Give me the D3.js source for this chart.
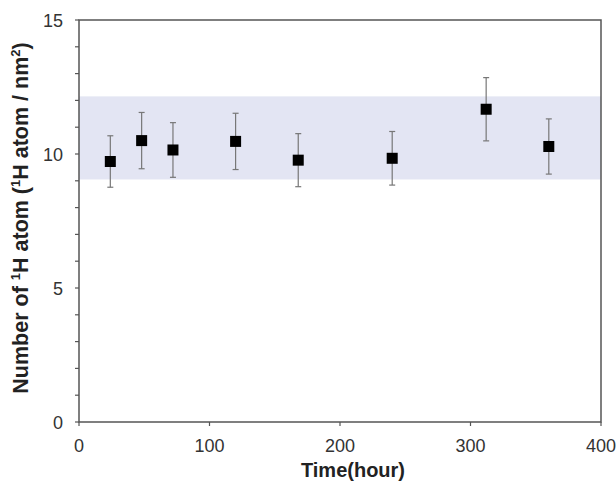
<!DOCTYPE html>
<html>
<head>
<meta charset="utf-8">
<script src="https://cdn.jsdelivr.net/npm/d3@7"></script>
<style>
  body { margin: 0; background: #fff; }
  text { font-family: "Liberation Sans", Arial, sans-serif; }
</style>
</head>
<body>
<div id="chart"></div>
<script>
// measured points: time (hour), value, error
var hours  = [24, 48, 72, 120, 168, 240, 312, 360];
var values = [9.72, 10.5, 10.15, 10.47, 9.77, 9.84, 11.67, 10.28];
var errors = [0.96, 1.05, 1.02, 1.05, 0.99, 1.0, 1.18, 1.03];

// shaded range
var bandRange = [9.05, 12.15];

var xTicks = [0, 100, 200, 300, 400];
var yTicks = [0, 5, 10, 15];
var yMinor = d3.range(0, 16, 1);

var width = 616,
    height = 483,
    margin = {top: 20, right: 15, bottom: 61, left: 79};

var x = d3.scaleLinear()
  .domain([0, 400])
  .range([margin.left, width - margin.right]);

var y = d3.scaleLinear()
  .domain([0, 15])
  .range([height - margin.bottom, margin.top]);

var svg = d3.select('#chart')
  .append('svg')
  .attr('width', width)
  .attr('height', height);

// band
svg.append('rect')
  .attr('x', x(0))
  .attr('y', y(bandRange[1]))
  .attr('width', x(400) - x(0))
  .attr('height', y(bandRange[0]) - y(bandRange[1]))
  .attr('fill', '#e3e5f3');

var axisColor = '#555';

// frame
svg.append('rect')
  .attr('x', x(0))
  .attr('y', y(15))
  .attr('width', x(400) - x(0))
  .attr('height', y(0) - y(15))
  .attr('fill', 'none')
  .attr('stroke', axisColor)
  .attr('stroke-width', 1.5);

// y axis ticks (minor, outward)
svg.selectAll('.ytick').data(yMinor)
  .enter().append('line')
  .attr('x1', x(0) - 4)
  .attr('x2', x(0))
  .attr('y1', function (d) { return y(d); })
  .attr('y2', function (d) { return y(d); })
  .attr('stroke', axisColor)
  .attr('stroke-width', 1.2);

svg.selectAll('.ylabel').data(yTicks)
  .enter().append('text')
  .attr('x', 63)
  .attr('y', function (d) { return y(d) + 7; })
  .attr('text-anchor', 'end')
  .attr('font-size', 18)
  .attr('fill', '#333')
  .text(function (d) { return d; });

// x axis ticks
svg.selectAll('.xtick').data(xTicks)
  .enter().append('line')
  .attr('x1', function (d) { return x(d); })
  .attr('x2', function (d) { return x(d); })
  .attr('y1', y(0))
  .attr('y2', y(0) + 4)
  .attr('stroke', axisColor)
  .attr('stroke-width', 1.2);

svg.selectAll('.xlabel').data(xTicks)
  .enter().append('text')
  .attr('x', function (d) { return x(d); })
  .attr('y', 452)
  .attr('text-anchor', 'middle')
  .attr('font-size', 18)
  .attr('fill', '#333')
  .text(function (d) { return d; });

// axis titles
svg.append('text')
  .attr('x', 353)
  .attr('y', 477)
  .attr('text-anchor', 'middle')
  .attr('font-size', 20)
  .attr('font-weight', 'bold')
  .attr('fill', '#222')
  .text('Time(hour)');

var yt = svg.append('text')
  .attr('transform', 'translate(28,218) rotate(-90)')
  .attr('text-anchor', 'middle')
  .attr('font-size', 21.5)
  .attr('font-weight', 'bold')
  .attr('fill', '#222');
yt.append('tspan').text('Number of ');
yt.append('tspan').attr('font-size', 13).attr('dy', -8).text('1');
yt.append('tspan').attr('dy', 8).text('H atom (');
yt.append('tspan').attr('font-size', 13).attr('dy', -8).text('1');
yt.append('tspan').attr('dy', 8).text('H atom / nm');
yt.append('tspan').attr('font-size', 13).attr('dy', -8).text('2');
yt.append('tspan').attr('dy', 8).text(')');

// error bars
var pts = hours.map(function (h, i) {
  return {x: h, y: values[i], e: errors[i]};
});

svg.selectAll('.err').data(pts)
  .enter().append('line')
  .attr('x1', function (d) { return x(d.x); })
  .attr('x2', function (d) { return x(d.x); })
  .attr('y1', function (d) { return y(d.y + d.e); })
  .attr('y2', function (d) { return y(d.y - d.e); })
  .attr('stroke', '#777')
  .attr('stroke-width', 1.2);

[1, -1].forEach(function (s) {
  svg.selectAll('.cap' + s).data(pts)
    .enter().append('line')
    .attr('x1', function (d) { return x(d.x) - 3; })
    .attr('x2', function (d) { return x(d.x) + 3; })
    .attr('y1', function (d) { return y(d.y + s * d.e); })
    .attr('y2', function (d) { return y(d.y + s * d.e); })
    .attr('stroke', '#777')
    .attr('stroke-width', 1.2);
});

// markers
svg.selectAll('.pt').data(pts)
  .enter().append('rect')
  .attr('x', function (d) { return x(d.x) - 5.5; })
  .attr('y', function (d) { return y(d.y) - 5.5; })
  .attr('width', 11)
  .attr('height', 11)
  .attr('fill', '#000');
</script>
</body>
</html>
